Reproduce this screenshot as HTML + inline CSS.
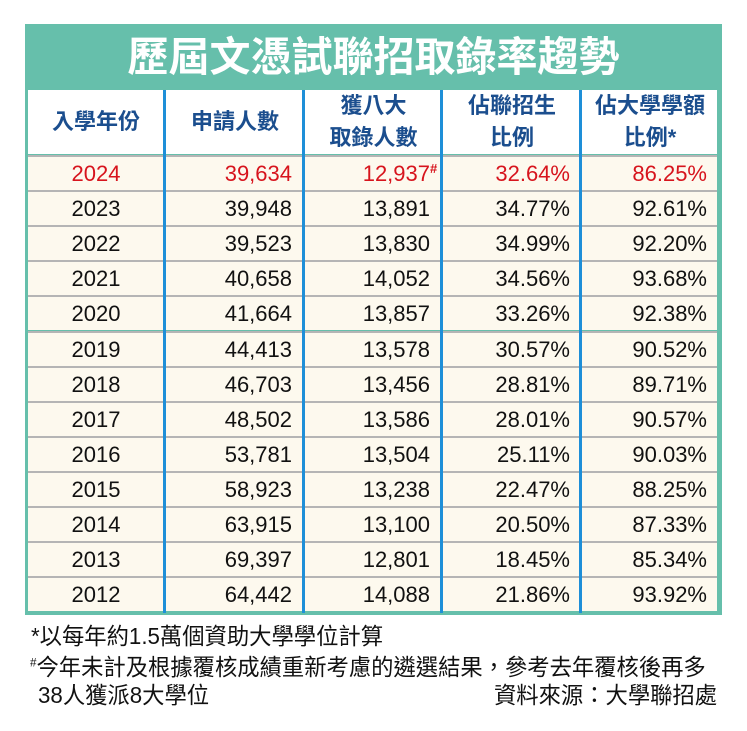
<!DOCTYPE html>
<html><head><meta charset="utf-8"><style>
body{margin:0;width:747px;height:731px;background:#fff;position:relative;overflow:hidden;font-family:"Liberation Sans","Noto Sans CJK TC",sans-serif}
.a{position:absolute}
#frame{left:25px;top:24px;width:697px;height:591px;background:#66bfab}
#title{left:25px;top:24px;width:697px;height:64px;color:#fff;font-size:41px;font-weight:bold;text-align:center;line-height:66px}
.hd{color:#1b4e8e;font-size:22px;font-weight:bold;text-align:center;line-height:32px}
.cell{font-size:22px;line-height:35px;height:35px}
.vl{width:3px;background:#1e8fd8;top:90px;height:523px}
.fn{font-size:23px;color:#111;white-space:nowrap;transform:scaleX(.97);transform-origin:left}
</style></head><body>
<div class="a" id="frame"></div>
<div class="a" id="title">歷屆文憑試聯招取錄率趨勢</div>
<div class="a" style="left:28px;top:90px;width:689px;height:64px;background:#fff"></div>
<div class="a hd" style="left:28px;top:106px;width:136px">入學年份</div>
<div class="a hd" style="left:167px;top:106px;width:136px">申請人數</div>
<div class="a hd" style="left:306px;top:90px;width:135px">獲八大<br>取錄人數</div>
<div class="a hd" style="left:444px;top:90px;width:136px">佔聯招生<br>比例</div>
<div class="a hd" style="left:583px;top:90px;width:134px">佔大學學額<br>比例*</div>
<div id="rows"></div>
<div class="a vl" style="left:163px"></div>
<div class="a vl" style="left:302px"></div>
<div class="a vl" style="left:440px"></div>
<div class="a vl" style="left:579px"></div>
<div class="a fn" style="left:31px;top:617px">*以每年約1.5萬個資助大學學位計算</div>
<div class="a fn" style="left:30px;top:648px"><sup style="font-size:12px">#</sup>今年未計及根據覆核成績重新考慮的遴選結果，參考去年覆核後再多</div>
<div class="a fn" style="left:38px;top:676px">38人獲派8大學位</div>
<div class="a fn" style="left:494px;top:676px">資料來源：大學聯招處</div>
<script>
const years=["2024","2023","2022","2021","2020","2019","2018","2017","2016","2015","2014","2013","2012"];
const applicants=["39,634","39,948","39,523","40,658","41,664","44,413","46,703","48,502","53,781","58,923","63,915","69,397","64,442"];
const admitted=["12,937","13,891","13,830","14,052","13,857","13,578","13,456","13,586","13,504","13,238","13,100","12,801","14,088"];
const jupasRatio=["32.64%","34.77%","34.99%","34.56%","33.26%","30.57%","28.81%","28.01%","25.11%","22.47%","20.50%","18.45%","21.86%"];
const placeRatio=["86.25%","92.61%","92.20%","93.68%","92.38%","90.52%","89.71%","90.57%","90.03%","88.25%","87.33%","85.34%","93.92%"];
const cols=[{l:28,w:136,c:true},{l:167,w:125},{l:306,w:124},{l:444,w:126},{l:583,w:124}];
const R=document.getElementById('rows');
const top0=155,rh=35.1;
years.forEach((y,i)=>{
  const t=top0+i*rh;
  const bg=document.createElement('div');
  
  
  bg.className='a';
  bg.style.cssText=`left:28px;top:${t}px;width:689px;height:${rh-2}px;background:#fdf9ee;border-top:2px solid #b5b5b5`;
  R.appendChild(bg);
  const vals=[y,applicants[i],admitted[i],jupasRatio[i],placeRatio[i]];
  const names=['year','applicants','admitted','jupas-ratio','place-ratio'];
  vals.forEach((v,j)=>{
    const d=document.createElement('div');
    
    
    d.className='a cell';
    d.style.cssText=`left:${cols[j].l}px;top:${t+1}px;width:${cols[j].w}px;text-align:${cols[j].c?'center':'right'};color:${i==0?'#d7141d':'#111'}`;
    d.innerHTML=v+(i==0&&j==2?'<sup style="font-size:13px;font-weight:bold;position:absolute;top:-5px">#</sup>':'');
    R.appendChild(d);
  });
});
</script>
</body></html>
